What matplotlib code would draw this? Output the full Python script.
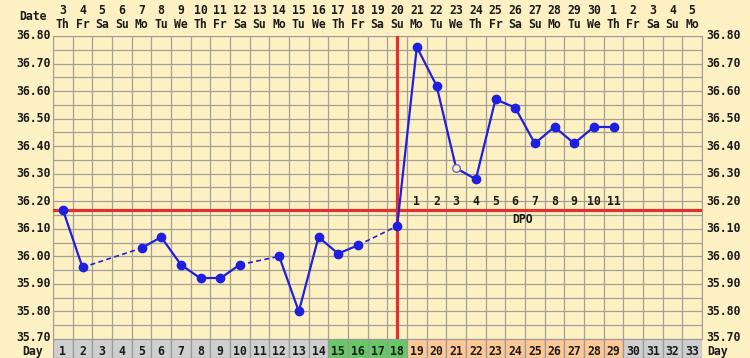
import matplotlib
matplotlib.use('Agg')
import matplotlib.pyplot as plt
from matplotlib.transforms import blended_transform_factory

# Chart data
cycle_days = list(range(1, 34))
month_days = [3, 4, 5, 6, 7, 8, 9, 10, 11, 12, 13, 14, 15, 16, 17, 18, 19, 20,
              21, 22, 23, 24, 25, 26, 27, 28, 29, 30, 1, 2, 3, 4, 5]
weekdays = ['Th', 'Fr', 'Sa', 'Su', 'Mo', 'Tu', 'We', 'Th', 'Fr', 'Sa', 'Su',
            'Mo', 'Tu', 'We', 'Th', 'Fr', 'Sa', 'Su', 'Mo', 'Tu', 'We', 'Th',
            'Fr', 'Sa', 'Su', 'Mo', 'Tu', 'We', 'Th', 'Fr', 'Sa', 'Su', 'Mo']
temp_days = [1, 2, 5, 6, 7, 8, 9, 10, 12, 13, 14, 15, 16, 18,
             19, 20, 21, 22, 23, 24, 25, 26, 27, 28, 29]
temps = [36.17, 35.96, 36.03, 36.07, 35.97, 35.92, 35.92, 35.97, 36.00, 35.80,
         36.07, 36.01, 36.04, 36.11, 36.76, 36.62, 36.32, 36.28, 36.57, 36.54,
         36.41, 36.47, 36.41, 36.47, 36.47]
open_days = [21]
coverline = 36.17
ovulation_day = 18
dpo_labels = list(range(1, 12))
dpo_days = list(range(19, 30))
fertile_days = [15, 16, 17, 18]
luteal_days = list(range(19, 30))
y_ticks = [35.70, 35.80, 35.90, 36.00, 36.10, 36.20, 36.30, 36.40, 36.50, 36.60, 36.70, 36.80]

bg = '#fdf1c4'
grid_col = '#a49f90'
blue = '#1f1fe0'
red = '#e2302e'
txt = '#1a1a1a'
font = dict(family='DejaVu Sans Mono', fontweight='bold', fontsize=8.3, color=txt)

fig = plt.figure(figsize=(7.5, 3.58), dpi=100, facecolor=bg)
ax = fig.add_axes([53/750, 19/358, 649/750, 303/358])
ax.set_facecolor(bg)
ax.set_xlim(0.5, 33.5)
ax.set_ylim(35.70, 36.80)

# grid
for i in range(34):
    ax.axvline(i + 0.5, color=grid_col, lw=0.9, zorder=1)
for k in range(23):
    ax.axhline(35.70 + k * 0.05, color=grid_col, lw=0.9, zorder=1)
for s in ax.spines.values():
    s.set_color(grid_col)
ax.set_xticks([])
ax.set_yticks([])

# y labels on both sides
ytr = blended_transform_factory(ax.transAxes, ax.transData)
for t in y_ticks:
    yy = t + 0.005 if t == 35.70 else t
    ax.text(-0.004, yy, f'{t:.2f}', transform=ytr, ha='right', va='center', **font)
    ax.text(1.006, yy, f'{t:.2f}', transform=ytr, ha='left', va='center', **font)

# header rows
hdr = blended_transform_factory(ax.transData, fig.transFigure)
for d, md, wd in zip(cycle_days, month_days, weekdays):
    ax.text(d, 1 - 11/358, str(md), transform=hdr, ha='center', va='center', **font)
    ax.text(d, 1 - 24/358, wd, transform=hdr, ha='center', va='center', **font)
fig.text(33/750, 1 - 17/358, 'Date', ha='center', va='center', **font)

# coverline and ovulation line
ax.axhline(coverline, color=red, lw=2.3, zorder=3)
ax.axvline(ovulation_day, color=red, lw=2.3, zorder=3)

# temperature line, dashed over missing days
for i in range(len(temp_days) - 1):
    x0, x1 = temp_days[i], temp_days[i + 1]
    if x1 - x0 == 1:
        ax.plot([x0, x1], [temps[i], temps[i + 1]], color=blue, lw=1.6, zorder=4)
    else:
        ax.plot([x0, x1], [temps[i], temps[i + 1]], color=blue, lw=1.2, ls=(0, (3, 2)), zorder=4)

for d, t in zip(temp_days, temps):
    if d in open_days:
        ax.plot(d, t, 'o', ms=5.5, mfc=bg, mec='#6a6ad0', mew=1.0, zorder=5)
    else:
        ax.plot(d, t, 'o', ms=6, color=blue, zorder=5)

# DPO labels
for d, n in zip(dpo_days, dpo_labels):
    ax.text(d, 36.20, str(n), ha='center', va='center', zorder=6, **font)
ax.text(24.4, 36.135, 'DPO', ha='center', va='center', zorder=6, **font)

# Day row at the bottom
axd = fig.add_axes([53/750, 0, 649/750, 19/358])
axd.set_xlim(0.5, 33.5)
axd.set_ylim(0, 1)
colors = []
for d in cycle_days:
    if d in fertile_days:
        colors.append('#66c966')
    elif d in luteal_days:
        colors.append('#fdc896')
    else:
        colors.append('#cfcfcf')
axd.bar(cycle_days, [1] * len(cycle_days), width=1, color=colors, edgecolor='#9a9a9a', lw=0.9)
for d in cycle_days:
    axd.text(d, 0.35, str(d), ha='center', va='center', **font)
axd.axis('off')
fig.text(33/750, 6/358, 'Day', ha='center', va='center', **font)
fig.text(718/750, 6/358, 'Day', ha='center', va='center', **font)

plt.savefig('out.png', dpi=100, facecolor=bg)
